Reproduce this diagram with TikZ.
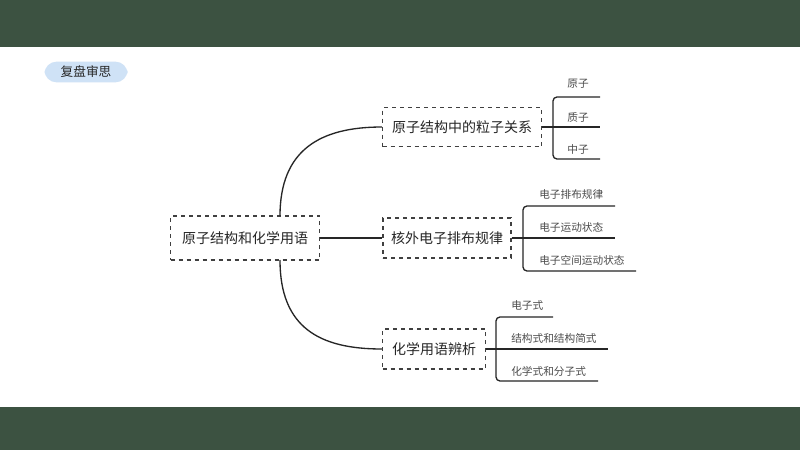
\documentclass[tikz,border=0pt]{standalone}
\usepackage{fontspec}
\setmainfont{Noto Sans CJK SC}
\definecolor{band}{HTML}{3C5241}
\definecolor{badgec}{HTML}{CFE2F6}
\begin{document}
\begin{tikzpicture}[x=0.75pt,y=-0.75pt,
  box/.style={draw=black!75,dashed,line width=0.9pt,inner sep=0pt,font=\fontsize{10.5}{12}\selectfont,text=black!85},
  leaf/.style={font=\fontsize{8}{9}\selectfont,text=black!70,inner sep=0pt},
  ln/.style={line width=1pt,black!85},
  br/.style={line width=1pt,black!85,rounded corners=3pt}]
\useasboundingbox (0,0) rectangle (800,450);
\fill[white] (0,0) rectangle (800,450);
\fill[band] (0,0) rectangle (800,47);
\fill[band] (0,407) rectangle (800,450);
\node[fill=badgec,rounded corners=9pt,minimum width=83pt*0.75,minimum height=20pt*0.75,font=\fontsize{9.5}{11}\selectfont,text=black!85] (badge) at (86,72) {复盘审思};
\node[box,minimum width=149*0.75pt,minimum height=44*0.75pt] (m) at (245,238) {原子结构和化学用语};
\node[box,minimum width=159*0.75pt,minimum height=39*0.75pt] (a) at (462,127) {原子结构中的粒子关系};
\node[box,minimum width=128*0.75pt,minimum height=40*0.75pt] (b) at (447,238) {核外电子排布规律};
\node[box,minimum width=103*0.75pt,minimum height=40*0.75pt] (c) at (434,349) {化学用语辨析};
\coordinate (mt) at (280,216); \coordinate (mb) at (280,260);
\draw[ln] (mt) .. controls (280,150) and (320,127) .. (a.west);
\draw[ln] (mb) .. controls (280,328) and (320,349) .. (c.west);
\draw[ln] (m.east) -- (b.west);
% branch A
\draw[ln] (a.east) -- (600,127);
\draw[br] (600,97) -- (553,97) -- (553,159) -- (600,159);
\node[leaf] (a1) at (578,84) {原子};
\node[leaf] (a2) at (578,117) {质子};
\node[leaf] (a3) at (578,149) {中子};
% branch B
\draw[ln] (b.east) -- (615,238);
\draw[br] (615,206) -- (523,206) -- (523,271) -- (636,271);
\node[leaf,anchor=west] (b1) at (539,194) {电子排布规律};
\node[leaf,anchor=west] (b2) at (539,227) {电子运动状态};
\node[leaf,anchor=west] (b3) at (539,260) {电子空间运动状态};
% branch C
\draw[ln] (c.east) -- (608,349);
\draw[br] (553,317) -- (496,317) -- (496,381) -- (598,381);
\node[leaf,anchor=west] (c1) at (511,305) {电子式};
\node[leaf,anchor=west] (c2) at (511,338) {结构式和结构简式};
\node[leaf,anchor=west] (c3) at (511,371) {化学式和分子式};
\end{tikzpicture}
\end{document}
